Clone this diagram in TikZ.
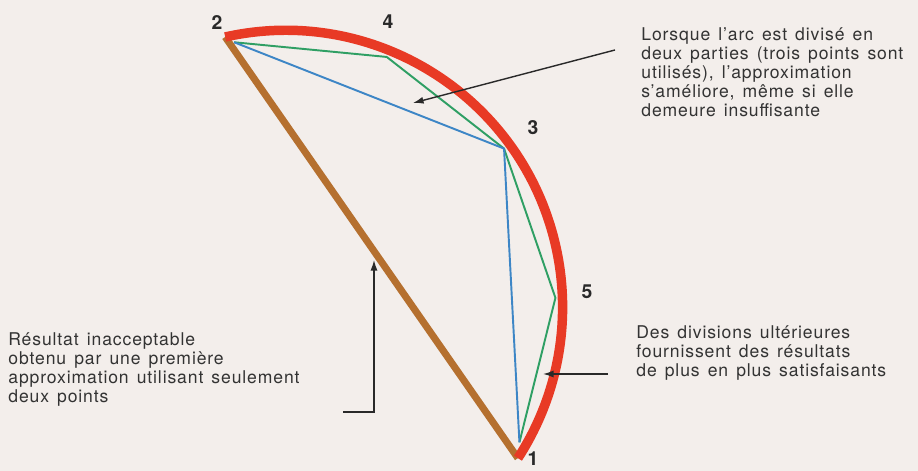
\documentclass[tikz,border=0pt]{standalone}
\usepackage{fontspec}
\setmainfont{TeX Gyre Heros}
\setsansfont{TeX Gyre Heros}
\newfontfamily\notefont[LetterSpace=5,WordSpace=1.4]{TeX Gyre Heros}
\usepackage{xcolor}
\definecolor{paper}{HTML}{F3EEEB}
\definecolor{arcred}{HTML}{E83A25}
\definecolor{chordbrown}{HTML}{B5702F}
\definecolor{chordblue}{HTML}{3D86C6}
\definecolor{chordgreen}{HTML}{2F9F64}
\definecolor{ink}{HTML}{333333}
\usepackage{tikz}
\usetikzlibrary{arrows.meta, positioning, calc}

\begin{document}
\begin{tikzpicture}[every node/.style={font=\sffamily},
  note/.style={text=ink, font=\fontsize{10}{10.8}\selectfont\notefont, align=left,
               anchor=north west, inner sep=0pt},
  numlabel/.style={text=ink!80!black, font=\fontsize{11}{12}\selectfont\bfseries\sffamily, inner sep=0pt},
  pointer/.style={draw=ink!80!black, line width=0.8pt, -{Latex[length=6pt,width=4pt]}}]

  % Paper and frame
  \fill[paper] (0,0) rectangle (18.36,9.42);
  \useasboundingbox (0,0) rectangle (18.36,9.42);

  \def\rArc{5.54}
  \def\rChord{5.40}

  % Centre of the arc and the points on it
  \coordinate (O) at (5.712,3.274);
  \coordinate (a2) at ($(O)+(102.6:\rArc)$);
  \coordinate (a1) at ($(O)+(-33:\rArc)$);
  \coordinate (p2) at ($(O)+(101:\rChord)$);
  \coordinate (p4) at ($(O)+(68:\rChord)$);
  \coordinate (p3) at ($(O)+(36:\rChord)$);
  \coordinate (p5) at ($(O)+(2:\rChord)$);
  \coordinate (p1) at ($(O)+(-30:\rChord)$);

  % Chord, arc and the two approximations
  \draw[chordbrown, line width=4pt] (a2) -- (a1);
  \draw[arcred, line width=5.4pt] (a2) arc[start angle=102.6, end angle=-33, radius=\rArc];
  \draw[chordgreen, line width=1.1pt, line join=round] (p2) -- (p4) -- (p3) -- (p5) -- (p1);
  \draw[chordblue, line width=1.1pt, line join=round] (p2) -- (p3) -- (p1);

  % Point numbers
  \node[numlabel] (n2) at (4.34,8.96) {2};
  \node[numlabel] (n4) at (7.76,8.98) {4};
  \node[numlabel] (n3) at (10.66,6.86) {3};
  \node[numlabel] (n5) at (11.74,3.58) {5};
  \node[numlabel] (n1) at (10.66,0.25) {1};

  % Notes
  \node[note] (topnote) at (12.82,8.88)
    {Lorsque l’arc est divisé en\\deux parties (trois points sont\\utilisés), l’approximation\\s’améliore, même si elle\\demeure insuffisante};
  \node[note] (rightnote) at (12.72,2.92)
    {Des divisions ultérieures\\fournissent des résultats\\de plus en plus satisfaisants};
  \node[note] (leftnote) at (0.16,2.78)
    {Résultat inacceptable\\obtenu par une première\\approximation utilisant seulement\\deux points};

  % Pointers
  \coordinate (topfrom) at (12.30,8.42);
  \coordinate (topto) at (8.26,7.36);
  \coordinate (rightfrom) at (12.16,1.94);
  \coordinate (rightto) at (10.86,1.94);
  \coordinate (leftfrom) at (6.86,1.18);
  \coordinate (leftto) at (7.48,4.22);
  \draw[pointer] (topfrom) -- (topto);
  \draw[pointer] (rightfrom) -- (rightto);
  \draw[pointer] (leftfrom) -| (leftto);
\end{tikzpicture}
\end{document}
